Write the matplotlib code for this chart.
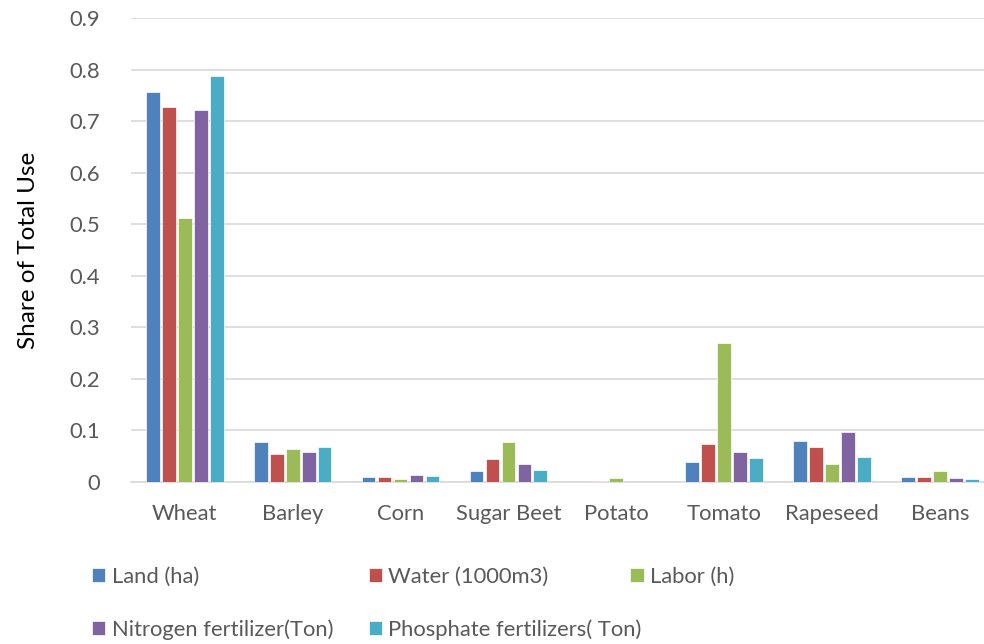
import numpy as np
import matplotlib
matplotlib.use("Agg")
import matplotlib.pyplot as plt

plt.rcParams['font.family'] = ['Lato', 'DejaVu Sans']

# ── 데이터 ──
crops = ['Wheat', 'Barley', 'Corn', 'Sugar Beet', 'Potato', 'Tomato', 'Rapeseed', 'Beans']
series = ['Land (ha)', 'Water (1000m3)', 'Labor (h)',
          'Nitrogen fertilizer(Ton)', 'Phosphate fertilizers( Ton)']
land = [0.757, 0.077, 0.009, 0.022, 0.0, 0.039, 0.080, 0.009]
water = [0.728, 0.055, 0.010, 0.044, 0.002, 0.074, 0.067, 0.010]
labor = [0.512, 0.063, 0.006, 0.077, 0.008, 0.269, 0.035, 0.021]
nitrogen = [0.722, 0.059, 0.014, 0.035, 0.0, 0.058, 0.096, 0.008]
phosphate = [0.788, 0.067, 0.011, 0.024, 0.0, 0.047, 0.049, 0.005]
colors = ['#4f81bd', '#c0504d', '#9bbb59', '#8064a2', '#4bacc6']

values = [land, water, labor, nitrogen, phosphate]
text_color = '#595959'
fs = 15.8

fig = plt.figure(figsize=(9.84, 6.44), dpi=100)
ax = fig.add_axes([0.133, 0.2516, 0.877, 0.7204])

x = np.arange(len(crops))
w = 0.148
bars = []
for i, (vals, c) in enumerate(zip(values, colors)):
    b = ax.bar(x + (i - 2) * w, vals, width=w * 0.86, color=c,
               edgecolor='white', linewidth=0.5, zorder=3)
    bars.append(b)

ax.set_ylim(0, 0.9)
ax.set_xlim(-0.5, len(crops) - 0.5)
ax.set_yticks(np.arange(0, 0.91, 0.1))
ax.set_yticklabels(['0'] + [f'{v:.1f}' for v in np.arange(0.1, 0.91, 0.1)])
ax.set_xticks(x)
ax.set_xticklabels(crops)
ax.yaxis.grid(True, color='#d9d9d9', linewidth=1.2, zorder=0)
ax.set_axisbelow(True)
for s in ['top', 'right', 'left']:
    ax.spines[s].set_visible(False)
ax.spines['bottom'].set_color('#d9d9d9')
ax.spines['bottom'].set_linewidth(1.2)
ax.tick_params(axis='both', length=0, labelsize=fs, colors=text_color)
ax.tick_params(axis='x', pad=16)
ax.tick_params(axis='y', pad=22)
ax.set_ylabel('Share of Total Use', fontsize=17.5, color='black', labelpad=22)

# ── 범례 (Excel 스타일 고정 격자) ──
legend_pos = [(0.078, 0.104), (0.359, 0.104), (0.625, 0.104),
              (0.078, 0.022), (0.359, 0.022)]
for b, label, (lx, ly) in zip(bars, series, legend_pos):
    fig.legend(handles=[b], labels=[label], loc='center left',
               bbox_to_anchor=(lx, ly), frameon=False, fontsize=fs,
               handlelength=0.6, handleheight=0.6, handletextpad=0.3,
               labelcolor=text_color, borderpad=0.2)

plt.savefig('out.png', dpi=100)
